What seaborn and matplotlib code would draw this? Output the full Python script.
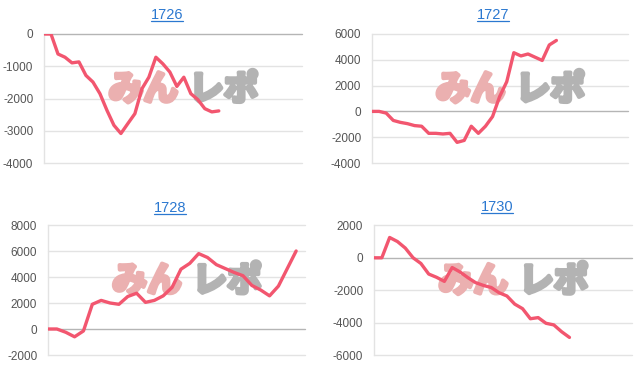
import numpy as np
import pandas as pd
import matplotlib
matplotlib.use("Agg")
import matplotlib.pyplot as plt
import matplotlib.patheffects as pe
import seaborn as sns
from matplotlib.lines import Line2D

# ---- data ----
titles = ["1726", "1727", "1728", "1730"]

s1726 = [0, 0, -620, -720, -895, -865, -1285, -1490, -1850, -2365, -2830, -3085,
         -2775, -2470, -1700, -1340, -720, -925, -1180, -1625, -1340, -1850,
         -2035, -2315, -2415, -2385]
s1727 = [0, 0, -130, -700, -850, -950, -1100, -1150, -1700, -1700, -1750, -1700,
         -2400, -2250, -1150, -1700, -1150, -400, 1150, 2300, 4550, 4300, 4450,
         4200, 3950, 5150, 5500]
s1728 = [0, 0, -250, -600, -150, 1900, 2200, 2000, 1900, 2500, 2750, 2050, 2200,
         2550, 3200, 4600, 5050, 5800, 5500, 4950, 4650, 4350, 4100, 3350, 3000,
         2550, 3300, 4650, 6000]
s1730 = [0, 0, 1250, 1000, 600, 0, -350, -1000, -1200, -1450, -600, -870, -1220,
         -1530, -1700, -1830, -2150, -2350, -2850, -3130, -3750, -3680, -4030,
         -4130, -4550, -4900]

series = [s1726, s1727, s1728, s1730]
yticks = [[0, -1000, -2000, -3000, -4000],
          [-4000, -2000, 0, 2000, 4000, 6000],
          [-2000, 0, 2000, 4000, 6000, 8000],
          [-6000, -4000, -2000, 0, 2000]]
xmax = [36.9, 36.1, 29.0, 33.0]

# ---- style ----
sns.set_style("white")
plt.rcParams['font.family'] = ['Liberation Sans', 'DejaVu Sans']

W, H = 640, 372
fig = plt.figure(figsize=(W / 100, H / 100), dpi=100)

def px_axes(l, r, t, b):
    return [l / W, 1 - b / H, (r - l) / W, (b - t) / H]

rects = [px_axes(44, 302, 34, 163), px_axes(372, 628, 34, 163),
         px_axes(48, 305, 225, 355), px_axes(374, 632, 225.3, 355.3)]
title_pos = [(167, 15), (493, 15), (170, 208), (497, 207)]

line_color = "#f2566f"
grid_color = "#e3e3e3"
zero_color = "#b5b5b5"
label_color = "#555555"
title_color = "#2b78d0"

title_texts = []
for i in range(4):
    ax = fig.add_axes(rects[i])
    df = pd.DataFrame({"x": np.arange(len(series[i])), "y": series[i]})
    sns.lineplot(data=df, x="x", y="y", ax=ax, color=line_color, linewidth=2.4,
                 zorder=3)
    ax.set_xlim(0, xmax[i])
    yt = yticks[i]
    ax.set_ylim(min(yt), max(yt))
    ax.set_yticks(yt)
    ax.set_yticklabels([str(v) for v in yt])
    ax.set_xticks([])
    ax.set_xlabel("")
    ax.set_ylabel("")
    for s in ["top", "right", "bottom"]:
        ax.spines[s].set_visible(False)
    ax.spines["left"].set_color(grid_color)
    ax.spines["left"].set_linewidth(1.0)
    for v in yt:
        ax.axhline(v, color=zero_color if v == 0 else grid_color,
                   lw=1.0, zorder=1, clip_on=False)
    ax.tick_params(axis="y", length=7.2, width=1.0, color=grid_color,
                   labelsize=8.5, labelcolor=label_color, pad=0.5)
    # watermark
    for txt, xf, col in [("みん", 0.385, "#ebb0b0"), ("レポ", 0.697, "#b3b3b3")]:
        ax.text(xf, 0.57, txt, transform=ax.transAxes, ha="center", va="center",
                fontsize=25, fontweight="bold", color=col, zorder=2,
                family=["Noto Sans CJK JP", "DejaVu Sans"],
                path_effects=[pe.withStroke(linewidth=3.0, foreground=col)])
    tx, ty = title_pos[i]
    t = fig.text(tx / W, 1 - ty / H, titles[i], ha="center", va="center",
                 fontsize=10.5, color=title_color)
    title_texts.append(t)

fig.canvas.draw()
renderer = fig.canvas.get_renderer()
for t in title_texts:
    bb = t.get_window_extent(renderer)
    yline = bb.y0 + 1.0
    fig.add_artist(Line2D([bb.x0 / W, bb.x1 / W], [yline / H, yline / H],
                          transform=fig.transFigure, color=title_color, lw=0.9))

fig.savefig("out.png", dpi=100)
